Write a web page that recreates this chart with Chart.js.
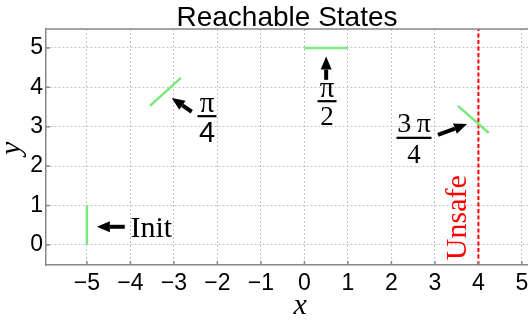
<!DOCTYPE html>
<html>
<head>
<meta charset="utf-8">
<script src="https://cdn.jsdelivr.net/npm/chart.js@4/dist/chart.umd.min.js"></script>
<style>
  html, body { margin: 0; padding: 0; background: #fff; }
  #wrap { position: relative; width: 528px; height: 325px; }
</style>
</head>
<body>
<div id="wrap"><canvas id="c"></canvas></div>
<script>
// segments of the reachable set (start / end points)
const initX = [-5, -5];
const initY = [0, 1];
const quarterX = [-3.55, -2.84];
const quarterY = [3.53, 4.24];
const halfX = [0, 1];
const halfY = [5, 5];
const threeQuarterX = [3.53, 4.24];
const threeQuarterY = [3.53, 2.84];
const unsafeX = [4, 4];
const unsafeY = [-0.51, 5.48];

const xTicks = [-5, -4, -3, -2, -1, 0, 1, 2, 3, 4, 5];
const xTickLabels = ["\u22125", "\u22124", "\u22123", "\u22122", "\u22121", "0", "1", "2", "3", "4", "5"];
const yTicks = [0, 1, 2, 3, 4, 5];
const yTickLabels = ["0", "1", "2", "3", "4", "5"];

const GREEN = "#7be87b";
const zip = (xs, ys) => xs.map((x, i) => ({ x: x, y: ys[i] }));

function segment(xs, ys, color, width, dash) {
  return {
    data: zip(xs, ys),
    showLine: true,
    borderColor: color,
    borderWidth: width,
    borderDash: dash || [],
    pointRadius: 0,
    fill: false
  };
}

function arrow(ctx, x1, y1, x2, y2) {
  const ang = Math.atan2(y2 - y1, x2 - x1);
  const headLen = 13, headW = 5.5;
  const bx = x2 - headLen * Math.cos(ang), by = y2 - headLen * Math.sin(ang);
  ctx.save();
  ctx.strokeStyle = "#000";
  ctx.fillStyle = "#000";
  ctx.lineWidth = 4;
  ctx.beginPath();
  ctx.moveTo(x1, y1);
  ctx.lineTo(bx, by);
  ctx.stroke();
  ctx.beginPath();
  ctx.moveTo(x2, y2);
  ctx.lineTo(bx + headW * Math.sin(ang), by - headW * Math.cos(ang));
  ctx.lineTo(bx - headW * Math.sin(ang), by + headW * Math.cos(ang));
  ctx.closePath();
  ctx.fill();
  ctx.restore();
}

function fraction(ctx, cx, topText, yTop, barY, barW, botText, yBot, topFont, botFont) {
  ctx.save();
  ctx.fillStyle = "#000";
  ctx.textAlign = "center";
  ctx.textBaseline = "alphabetic";
  ctx.font = topFont;
  ctx.fillText(topText, cx, yTop);
  ctx.fillRect(cx - barW / 2, barY - 1, barW, 2.2);
  ctx.font = botFont;
  ctx.fillText(botText, cx, yBot);
  ctx.restore();
}

const annotations = {
  id: "annotations",
  afterDraw(chart) {
    const ctx = chart.ctx;
    const a = chart.chartArea;
    const xs = chart.scales.x, ys = chart.scales.y;
    const px = v => xs.getPixelForValue(v);
    const py = v => ys.getPixelForValue(v);

    // top border and inward ticks
    ctx.save();
    ctx.strokeStyle = "#888";
    ctx.lineWidth = 1.5;
    ctx.beginPath();
    ctx.moveTo(a.left, a.top);
    ctx.lineTo(a.right, a.top);
    xTicks.forEach(v => { ctx.moveTo(px(v), a.bottom); ctx.lineTo(px(v), a.bottom - 4); });
    yTicks.forEach(v => { ctx.moveTo(a.left, py(v)); ctx.lineTo(a.left + 4, py(v)); });
    ctx.stroke();
    ctx.restore();

    // title and axis labels
    ctx.save();
    ctx.fillStyle = "#000";
    ctx.textAlign = "center";
    ctx.textBaseline = "alphabetic";
    ctx.font = "28px 'Liberation Sans', Arial, sans-serif";
    ctx.fillText("Reachable States", (a.left + a.right) / 2, 26);
    ctx.font = "italic 30px 'Liberation Serif', 'DejaVu Serif', serif";
    ctx.fillText("x", px(-0.1), 314);
    ctx.translate(20, py(2.45));
    ctx.rotate(-Math.PI / 2);
    ctx.fillText("y", 0, 0);
    ctx.restore();

    const serif = s => s + "px 'Liberation Serif', 'DejaVu Serif', serif";

    // Init
    arrow(ctx, px(-4.13), py(0.46), px(-4.77), py(0.46));
    ctx.save();
    ctx.fillStyle = "#000";
    ctx.font = serif(30);
    ctx.textAlign = "left";
    ctx.fillText("Init", px(-4.0), py(0.2));
    ctx.restore();

    // pi/4
    arrow(ctx, px(-2.59), py(3.38), px(-3.05), py(3.73));
    fraction(ctx, px(-2.24), "\u03c0", py(3.38), py(3.27), 19, "4", py(2.61),
      serif(29), "29px 'Liberation Sans', Arial, sans-serif");

    // pi/2
    arrow(ctx, px(0.5), py(4.19), px(0.5), py(4.78));
    fraction(ctx, px(0.52), "\u03c0", py(3.76), py(3.65), 19, "2", py(3.05), serif(29), serif(27));

    // 3pi/4
    arrow(ctx, px(3.07), py(2.79), px(3.74), py(3.07));
    fraction(ctx, px(2.52), "3\u202f\u03c0", py(2.87), py(2.72), 35, "4", py(2.08), serif(28), serif(27));

    // Unsafe
    ctx.save();
    ctx.fillStyle = "#ff0000";
    ctx.font = serif(30);
    ctx.textAlign = "center";
    ctx.textBaseline = "middle";
    ctx.translate(px(3.53), py(0.69));
    ctx.rotate(-Math.PI / 2);
    ctx.fillText("Unsafe", 0, 0);
    ctx.restore();
  }
};

new Chart(document.getElementById("c"), {
  type: "scatter",
  data: {
    datasets: [
      segment(initX, initY, GREEN, 2.5),
      segment(quarterX, quarterY, GREEN, 2.5),
      segment(halfX, halfY, GREEN, 2.5),
      segment(threeQuarterX, threeQuarterY, GREEN, 2.5),
      segment(unsafeX, unsafeY, "#ff0000", 2, [4, 2.5])
    ]
  },
  options: {
    responsive: true,
    maintainAspectRatio: false,
    animation: false,
    layout: { padding: { top: 29, left: 0, right: 0, bottom: 0 } },
    plugins: {
      legend: { display: false },
      title: { display: false },
      tooltip: { enabled: false }
    },
    scales: {
      x: {
        type: "linear",
        min: -5.94,
        max: 5.14,
        afterBuildTicks: s => { s.ticks = xTicks.map(v => ({ value: v })); },
        afterFit: s => { s.height = 60; s.paddingLeft = 0; s.paddingRight = 0; },
        ticks: {
          autoSkip: false,
          maxRotation: 0,
          padding: 5,
          color: "#000",
          font: { family: "'Liberation Sans', Arial, sans-serif", size: 23 },
          callback: (v, i) => xTickLabels[i]
        },
        grid: { color: "#c4c4c4", lineWidth: 1, drawTicks: false },
        border: { color: "#888", width: 1.5, dash: [2, 2] }
      },
      y: {
        type: "linear",
        min: -0.51,
        max: 5.48,
        afterBuildTicks: s => { s.ticks = yTicks.map(v => ({ value: v })); },
        afterFit: s => { s.width = 46; s.paddingTop = 0; s.paddingBottom = 0; },
        ticks: {
          autoSkip: false,
          padding: 3,
          color: "#000",
          font: { family: "'Liberation Sans', Arial, sans-serif", size: 23 },
          callback: (v, i) => yTickLabels[i]
        },
        grid: { color: "#c4c4c4", lineWidth: 1, drawTicks: false },
        border: { color: "#888", width: 1.5, dash: [2, 2] }
      }
    }
  },
  plugins: [annotations]
});
</script>
</body>
</html>
